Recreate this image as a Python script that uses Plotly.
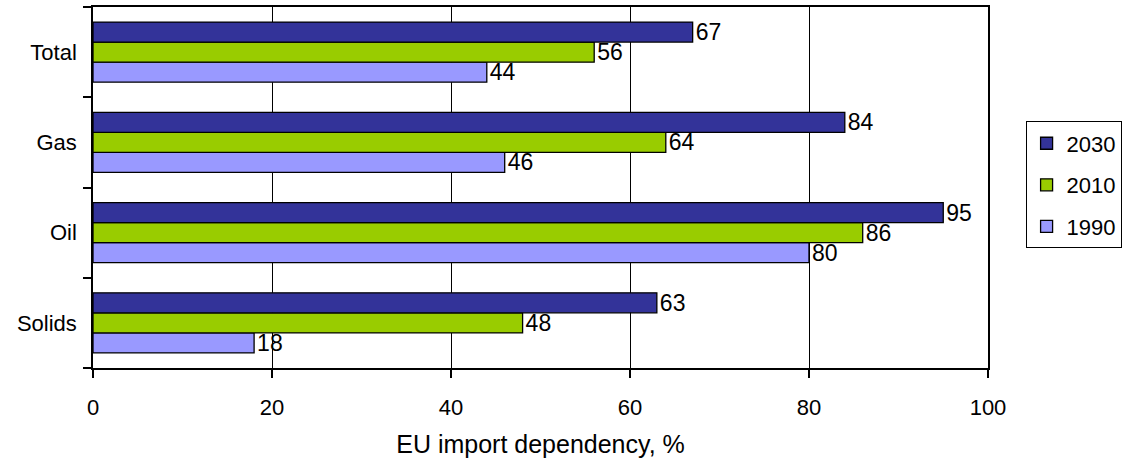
import plotly.graph_objects as go

categories = ["Solids", "Oil", "Gas", "Total"]
v1990 = [18, 80, 46, 44]
v2010 = [48, 86, 64, 56]
v2030 = [63, 95, 84, 67]
series_names = ["1990", "2010", "2030"]
colors = {"1990": "#9999FF", "2010": "#99CC00", "2030": "#333399"}
ranks = {"2030": 1, "2010": 2, "1990": 3}
x_ticks = [0, 20, 40, 60, 80, 100]
x_title = "EU import dependency, %"

FONT = "Liberation Sans, Arial, sans-serif"
FS = 22

fig = go.Figure()
for name, vals in zip(series_names, [v1990, v2010, v2030]):
    fig.add_trace(go.Bar(
        y=categories, x=vals, name=name, orientation="h",
        marker=dict(color=colors[name], line=dict(color="black", width=1.3)),
        text=[str(v) for v in vals], textposition="outside",
        constraintext="none",
        textfont=dict(family=FONT, size=23, color="black"),
        cliponaxis=False, legendgroup=name, legendrank=ranks[name],
    ))

fig.update_layout(
    width=1123, height=461,
    margin=dict(l=93, r=135, t=7, b=93, autoexpand=False),
    barmode="group", bargap=0.333, bargroupgap=0,
    plot_bgcolor="white", paper_bgcolor="white",
    font=dict(family=FONT, size=FS, color="black"),
    legend=dict(
        x=1.042, y=0.507, xanchor="left", yanchor="middle",
        traceorder="grouped", tracegroupgap=10,
        bordercolor="black", borderwidth=1,
        font=dict(family=FONT, size=22, color="black"),
        itemwidth=30,
    ),
    showlegend=True,
)
fig.update_xaxes(
    range=[0, 100], tickvals=x_ticks, ticktext=[str(t) for t in x_ticks],
    showgrid=True, gridcolor="black", gridwidth=1,
    showline=True, linecolor="black", linewidth=1.5, mirror=True,
    ticks="outside", ticklen=8, tickcolor="black", tickwidth=1.5,
    ticklabelstandoff=11,
    zeroline=False,
    title=dict(text=x_title, standoff=16, font=dict(family=FONT, size=25)),
)
fig.update_yaxes(
    categoryorder="array", categoryarray=categories,
    showgrid=False, showline=True, linecolor="black", linewidth=1.5, mirror=True,
    ticks="outside", tickson="boundaries", ticklen=8, tickcolor="black", tickwidth=1.5,
    ticklabelstandoff=10,
)

fig.write_html("out.html")
